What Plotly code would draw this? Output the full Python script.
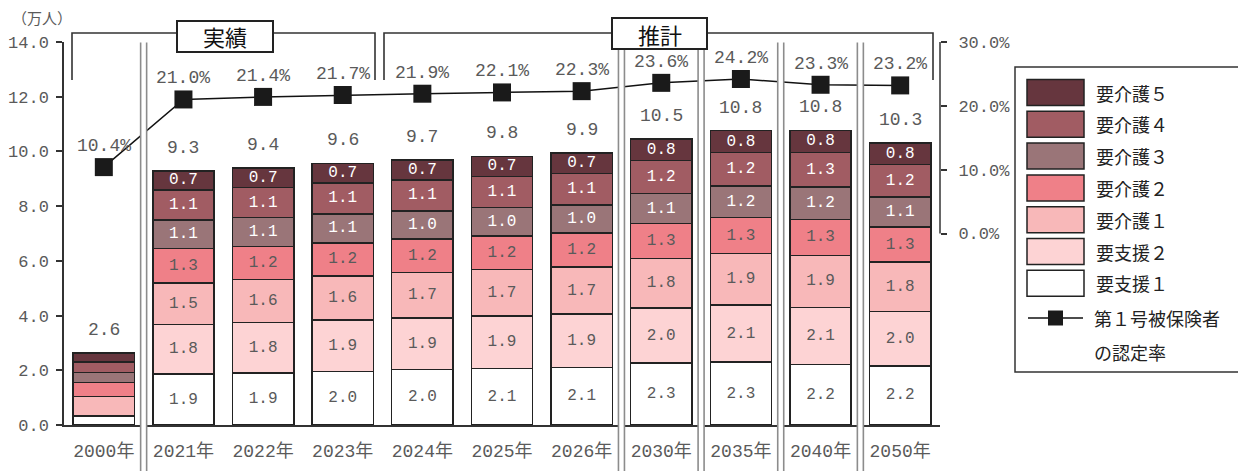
import plotly.graph_objects as go

# ---------------- data ----------------
categories = ["2000年", "2021年", "2022年", "2023年", "2024年", "2025年", "2026年",
              "2030年", "2035年", "2040年", "2050年"]

shien1 = [0.33, 1.86, 1.91, 1.96, 2.02, 2.07, 2.11, 2.26, 2.30, 2.22, 2.16]
shien2 = [None, 1.81, 1.84, 1.87, 1.90, 1.92, 1.94, 2.02, 2.08, 2.08, 1.99]
kaigo1 = [0.71, 1.52, 1.56, 1.61, 1.66, 1.69, 1.72, 1.80, 1.88, 1.90, 1.81]
kaigo2 = [0.51, 1.26, 1.21, 1.22, 1.22, 1.23, 1.24, 1.28, 1.32, 1.32, 1.27]
kaigo3 = [0.37, 1.05, 1.06, 1.06, 1.03, 1.04, 1.04, 1.10, 1.16, 1.18, 1.10]
kaigo4 = [0.38, 1.09, 1.10, 1.12, 1.13, 1.14, 1.15, 1.20, 1.22, 1.27, 1.20]
kaigo5 = [0.33, 0.70, 0.71, 0.72, 0.72, 0.73, 0.74, 0.80, 0.80, 0.80, 0.77]

shien1_lbl = ["", "1.9", "1.9", "2.0", "2.0", "2.1", "2.1", "2.3", "2.3", "2.2", "2.2"]
shien2_lbl = ["", "1.8", "1.8", "1.9", "1.9", "1.9", "1.9", "2.0", "2.1", "2.1", "2.0"]
kaigo1_lbl = ["", "1.5", "1.6", "1.6", "1.7", "1.7", "1.7", "1.8", "1.9", "1.9", "1.8"]
kaigo2_lbl = ["", "1.3", "1.2", "1.2", "1.2", "1.2", "1.2", "1.3", "1.3", "1.3", "1.3"]
kaigo3_lbl = ["", "1.1", "1.1", "1.1", "1.0", "1.0", "1.0", "1.1", "1.2", "1.2", "1.1"]
kaigo4_lbl = ["", "1.1", "1.1", "1.1", "1.1", "1.1", "1.1", "1.2", "1.2", "1.3", "1.2"]
kaigo5_lbl = ["", "0.7", "0.7", "0.7", "0.7", "0.7", "0.7", "0.8", "0.8", "0.8", "0.8"]

totals_lbl = ["2.6", "9.3", "9.4", "9.6", "9.7", "9.8", "9.9", "10.5", "10.8", "10.8", "10.3"]
rate = [10.4, 21.0, 21.4, 21.7, 21.9, 22.1, 22.3, 23.6, 24.2, 23.3, 23.2]
rate_lbl = ["10.4%", "21.0%", "21.4%", "21.7%", "21.9%", "22.1%", "22.3%",
            "23.6%", "24.2%", "23.3%", "23.2%"]

left_ticks = [0, 2, 4, 6, 8, 10, 12, 14]
left_ticktext = ["0.0", "2.0", "4.0", "6.0", "8.0", "10.0", "12.0", "14.0"]
right_ticks = [0, 10, 20, 30]
right_ticktext = ["0.0%", "10.0%", "20.0%", "30.0%"]

separated_after = ["2000年", "2026年", "2030年", "2035年", "2040年"]

# ---------------- styling ----------------
OFF = 8                       # page body margin of the browser
W, H = 1246 - OFF, 471 - OFF  # figure size
L, R, T, B = 64, 940, 42, 425  # plot area in screen px

NUM_FONT = "Liberation Mono, Noto Sans CJK JP"
JP_FONT = "Noto Sans CJK JP"
GRAY_TXT = "#5a5a5a"

series = [
    ("要支援１", shien1, shien1_lbl, "#ffffff", GRAY_TXT),
    ("要支援２", shien2, shien2_lbl, "#fdd3d4", GRAY_TXT),
    ("要介護１", kaigo1, kaigo1_lbl, "#f8b8b9", GRAY_TXT),
    ("要介護２", kaigo2, kaigo2_lbl, "#ef8088", GRAY_TXT),
    ("要介護３", kaigo3, kaigo3_lbl, "#9a7578", "#ffffff"),
    ("要介護４", kaigo4, kaigo4_lbl, "#a15c63", "#ffffff"),
    ("要介護５", kaigo5, kaigo5_lbl, "#66363e", "#ffffff"),
]


def fx(p):
    return (p - L) / (R - L)


def fy(p):
    return (B - p) / (B - T)


fig = go.Figure()

for name, vals, labs, color, tcolor in series:
    fig.add_trace(go.Bar(
        x=categories, y=vals, name=name, text=labs, texttemplate="%{text}",
        textposition="inside", insidetextanchor="middle", constraintext="none",
        textangle=0,
        textfont=dict(family=NUM_FONT, size=16, color=tcolor),
        marker=dict(color=color, line=dict(color="#222222", width=1.5)),
        showlegend=False, hoverinfo="skip",
    ))

fig.add_trace(go.Scatter(
    x=categories, y=rate, yaxis="y2", mode="lines+markers",
    line=dict(color="#111111", width=1.5),
    marker=dict(symbol="square", size=18, color="#1a1a1a"),
    showlegend=False, hoverinfo="skip",
))

annotations = []
totals = []
for i in range(len(categories)):
    s = 0
    for _, vals, _, _, _ in series:
        if vals[i] is not None:
            s += vals[i]
    totals.append(s)

for c, t, lab in zip(categories, totals, totals_lbl):
    annotations.append(dict(x=c, y=t, xref="x", yref="y", text=lab, showarrow=False,
                            xanchor="center", yanchor="middle",
                            yshift=23, font=dict(family=NUM_FONT, size=18, color=GRAY_TXT)))
for c, r, lab in zip(categories, rate, rate_lbl):
    annotations.append(dict(x=c, y=r, xref="x", yref="y2", text=lab, showarrow=False,
                            xanchor="center", yanchor="middle",
                            yshift=21, font=dict(family=NUM_FONT, size=18, color=GRAY_TXT)))

# unit label
annotations.append(dict(x=fx(10), y=fy(18), xref="paper", yref="paper", text="（万人）",
                        xanchor="left", yanchor="middle",
                        showarrow=False, font=dict(family=JP_FONT, size=15, color=GRAY_TXT)))

shapes = []
n = len(categories)
# separators (double gray lines with white gap)
for c in separated_after:
    i = categories.index(c)
    xb = (i + 1) / n
    d = 3 / (R - L)
    shapes.append(dict(type="rect", xref="paper", yref="paper", x0=xb - d, x1=xb + d,
                       y0=fy(475), y1=fy(42.5), fillcolor="white", line=dict(width=0),
                       layer="above"))
    for xx in (xb - d, xb + d):
        shapes.append(dict(type="line", xref="paper", yref="paper", x0=xx, x1=xx,
                           y0=fy(475), y1=fy(42.5), line=dict(color="#8c8c8c", width=1.6),
                           layer="above"))

# right axis line (0%..30%)
shapes.append(dict(type="line", xref="paper", yref="y2", x0=1, x1=1, y0=0, y1=30,
                   line=dict(color="#333333", width=1.5), layer="above"))

# brackets
BR = dict(color="#333333", width=1.6)
for x0, x1 in ((72, 375), (384, 933)):
    shapes.append(dict(type="path", xref="paper", yref="paper",
                       path=f"M {fx(x0)},{fy(80)} L {fx(x0)},{fy(33)} L {fx(x1)},{fy(33)} L {fx(x1)},{fy(80)}",
                       line=BR, layer="above"))
# boxes
for (x0, x1, y0, y1, label) in ((177, 273, 21, 52, "実績"), (612, 707, 18, 49, "推計")):
    shapes.append(dict(type="rect", xref="paper", yref="paper", x0=fx(x0), x1=fx(x1),
                       y0=fy(y1), y1=fy(y0), fillcolor="white",
                       line=dict(color="#222222", width=2), layer="above"))
    annotations.append(dict(x=fx((x0 + x1) / 2), y=fy((y0 + y1) / 2), xref="paper", yref="paper",
                            text=label, showarrow=False, xanchor="center", yanchor="middle",
                            font=dict(family=JP_FONT, size=22, color="#111111")))

# manual legend
shapes.append(dict(type="rect", xref="paper", yref="paper", x0=fx(1015), x1=fx(1242),
                   y0=fy(372), y1=fy(67), fillcolor="white",
                   line=dict(color="#333333", width=1.5), layer="above"))
legend_order = list(reversed(series))
for k, (name, _, _, color, _) in enumerate(legend_order):
    cy = 92.5 + k * 31.8
    shapes.append(dict(type="rect", xref="paper", yref="paper", x0=fx(1027), x1=fx(1084),
                       y0=fy(cy + 13), y1=fy(cy - 13), fillcolor=color,
                       line=dict(color="#222222", width=1.5), layer="above"))
    annotations.append(dict(x=fx(1094), y=fy(cy), xref="paper", yref="paper", text=name,
                            xanchor="left", yanchor="middle", showarrow=False,
                            font=dict(family=JP_FONT, size=18, color="#222222")))
ly = 318
shapes.append(dict(type="line", xref="paper", yref="paper", x0=fx(1028), x1=fx(1083),
                   y0=fy(ly), y1=fy(ly), line=dict(color="#111111", width=1.5), layer="above"))
shapes.append(dict(type="rect", xref="paper", yref="paper", x0=fx(1048), x1=fx(1063),
                   y0=fy(ly + 7.5), y1=fy(ly - 7.5), fillcolor="#1a1a1a",
                   line=dict(width=0), layer="above"))
annotations.append(dict(x=fx(1092), y=fy(ly), xref="paper", yref="paper", text="第１号被保険者",
                        xanchor="left", yanchor="middle", showarrow=False,
                        font=dict(family=JP_FONT, size=18, color="#222222")))
annotations.append(dict(x=fx(1092), y=fy(352), xref="paper", yref="paper", text="の認定率",
                        xanchor="left", yanchor="middle", showarrow=False,
                        font=dict(family=JP_FONT, size=18, color="#222222")))

fig.update_layout(
    width=W, height=H,
    margin=dict(l=L - OFF, r=W - (R - OFF), t=T - OFF, b=H - (B - OFF), pad=0, autoexpand=False),
    paper_bgcolor="white", plot_bgcolor="white",
    barmode="stack", bargap=0.23,
    showlegend=False,
    xaxis=dict(type="category", range=[-0.5, len(categories) - 0.5],
               showline=True, linecolor="#333333", linewidth=1.5,
               ticks="", showgrid=False, zeroline=False, ticklabelstandoff=9,
               tickfont=dict(family=NUM_FONT, size=18, color=GRAY_TXT)),
    yaxis=dict(range=[0, 14], tickvals=left_ticks, ticktext=left_ticktext,
               showline=True, linecolor="#333333", linewidth=1.5,
               ticks="outside", ticklen=6, tickcolor="#333333", tickwidth=1.5,
               showgrid=False, zeroline=False, ticklabelstandoff=4,
               tickfont=dict(family=NUM_FONT, size=17, color=GRAY_TXT)),
    yaxis2=dict(range=[-30, 30], overlaying="y", side="right", tickvals=right_ticks,
                ticktext=right_ticktext, showline=False, ticks="outside", ticklen=6,
                tickcolor="#333333", tickwidth=1.5, showgrid=False, zeroline=False,
                ticklabelstandoff=8,
                tickfont=dict(family=NUM_FONT, size=17, color=GRAY_TXT)),
    shapes=shapes, annotations=annotations,
)

fig.write_html("out.html")
